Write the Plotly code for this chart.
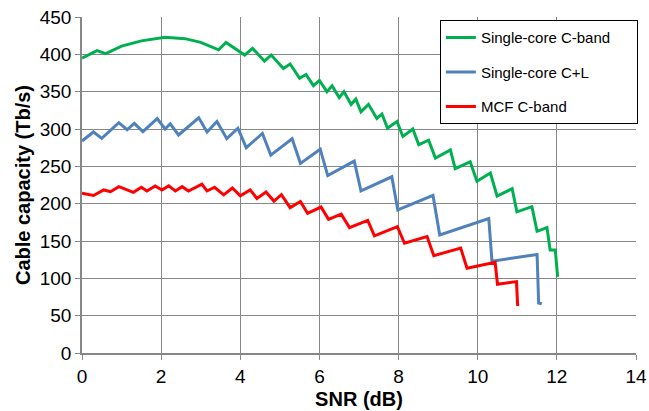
import plotly.graph_objects as go

green_snr = [0, 0.38, 0.6, 1.0, 1.5, 2.1, 2.6, 3.0, 3.45, 3.64, 4.11, 4.31, 4.61, 4.78, 5.09, 5.26, 5.5, 5.66,
             5.85, 6.0, 6.19, 6.32, 6.5, 6.62, 6.8, 6.92, 7.05, 7.24, 7.45, 7.58, 7.72, 7.96, 8.11, 8.36, 8.51,
             8.76, 8.93, 9.31, 9.43, 9.81, 9.98, 10.32, 10.49, 10.87, 10.99, 11.37, 11.5, 11.75, 11.83, 11.96, 12.02]
green_cap = [395, 405, 401, 411, 418, 423, 421, 416, 406, 416, 399, 408, 391, 399, 381, 387, 368, 373,
             358, 365, 350, 358, 342, 350, 333, 340, 323, 333, 314, 320, 301, 310, 290, 300, 279,
             285, 261, 272, 247, 256, 230, 241, 210, 220, 189, 196, 163, 168, 138, 138, 102]

blue_snr = [0, 0.29, 0.5, 0.93, 1.14, 1.32, 1.54, 1.9, 2.1, 2.23, 2.44, 2.95, 3.16, 3.41, 3.66, 3.94, 4.15,
            4.56, 4.77, 5.31, 5.52, 6.02, 6.21, 6.88, 7.05, 7.83, 7.98, 8.87, 9.04, 10.28, 10.36, 11.5, 11.54, 11.62]
blue_cap = [284, 296, 287.5, 308.5, 299, 307.6, 296.5, 314, 300, 307, 292, 315, 296, 310, 287, 301, 275,
            294, 265, 287, 254, 273, 237.6, 257, 217, 236, 191.6, 211, 158, 180, 123, 132, 67, 66]

red_snr = [0, 0.29, 0.55, 0.72, 0.93, 1.3, 1.5, 1.64, 1.85, 2.02, 2.19, 2.36, 2.53, 2.69, 3.03, 3.16, 3.35,
           3.58, 3.8, 4.0, 4.25, 4.42, 4.65, 4.85, 5.04, 5.26, 5.52, 5.7, 6.04, 6.23, 6.55, 6.76, 7.22, 7.39,
           7.97, 8.15, 8.72, 8.89, 9.57, 9.73, 10.44, 10.5, 10.98, 11.01]
red_cap = [214, 211, 218.4, 216, 222.8, 215.2, 222, 217, 223.8, 218.4, 223.8, 217, 222.8, 217, 226, 217, 222,
           211.7, 221, 210.6, 218.4, 207, 215.5, 203.5, 212, 194.7, 202.8, 187, 195.5, 179, 186, 168, 177.5, 157,
           169.3, 147, 156, 130.4, 140.5, 113.5, 121.5, 92, 95.6, 63]

series = [
    ("Single-core C-band", green_snr, green_cap, "#00B050"),
    ("Single-core C+L", blue_snr, blue_cap, "#4F81BD"),
    ("MCF C-band", red_snr, red_cap, "#FF0000"),
]

x_ticks = [0, 2, 4, 6, 8, 10, 12, 14]
y_ticks = [0, 50, 100, 150, 200, 250, 300, 350, 400, 450]

fig = go.Figure()
for i, (name, xs, ys, col) in enumerate(series):
    label = name + ("\u00a0" * 5 if i == 0 else "")
    fig.add_trace(go.Scatter(x=xs, y=ys, mode="lines", name=label, legendgroup=name,
                             line=dict(color=col, width=3)))

font = "Liberation Sans, Arial, sans-serif"
grid = "#878787"
fig.update_layout(
    width=649, height=411,
    margin=dict(l=82, r=11, t=17, b=58),
    paper_bgcolor="white", plot_bgcolor="white",
    font=dict(family=font, size=19, color="black"),
    showlegend=True,
    legend=dict(x=0.646, y=0.99, xanchor="left", yanchor="top",
                bgcolor="white", bordercolor="black", borderwidth=1,
                font=dict(size=15, family=font, color="black"),
                tracegroupgap=12),
    xaxis=dict(range=[0, 14], tickvals=x_ticks, showgrid=True, gridcolor=grid, gridwidth=1.2,
               showline=True, linecolor=grid, linewidth=1.5, ticks="outside", ticklen=5, tickcolor=grid,
               zeroline=False, tickfont=dict(size=19), automargin=False,
               title=dict(text="<b>SNR (dB)</b>", font=dict(size=20), standoff=6)),
    yaxis=dict(range=[0, 450], tickvals=y_ticks, showgrid=True, gridcolor=grid, gridwidth=1.2,
               showline=True, linecolor=grid, linewidth=1.5, ticks="outside", ticklen=5, tickcolor=grid,
               zeroline=False, tickfont=dict(size=19), automargin=False,
               title=dict(text="<b>Cable capacity (Tb/s)</b>", font=dict(size=20), standoff=4)),
)

fig.write_html("out.html")
